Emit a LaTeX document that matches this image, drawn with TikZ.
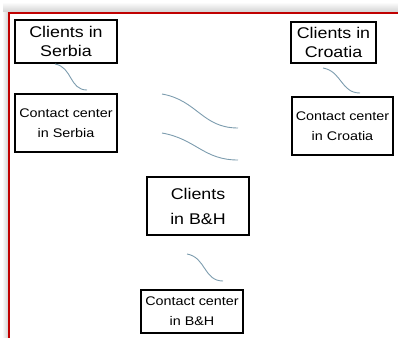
\documentclass[tikz,border=0pt]{standalone}
\usepackage{fontspec}
\setmainfont[FakeStretch=1.15]{Liberation Sans}
\definecolor{framered}{HTML}{C00000}
\definecolor{wavecol}{HTML}{7C9CAE}

\begin{document}
\begin{tikzpicture}[
            x=1bp, y=-1bp,
            box/.style={rectangle, draw, line width=1.2bp, inner sep=0pt, align=center},
            cli/.style={box, font=\fontsize{15.5bp}{19bp}\selectfont},
            ctr/.style={box, font=\fontsize{12.5bp}{20bp}\selectfont},
            wave/.style={draw=wavecol, line width=0.9bp, out=-10, in=180, looseness=1.1}
        ]
        \useasboundingbox (0,0) rectangle (398,338);

        % shadow and frame
        \shade[top color=white, bottom color=gray!35] (3,2) rectangle (398,12);
        \shade[left color=white, right color=gray!35] (2,12) rectangle (8,338);
        \draw[framered, line width=2.5bp] (9,338) -- (9,13) -- (398,13);

        % clients and contact centers
        \node[cli, minimum width=102bp, minimum height=43bp] (cliSrb) at (66,41.5) {Clients in\\Serbia};
        \node[ctr, minimum width=102bp, minimum height=58bp] (ctrSrb) at (66,123) {Contact center\\in Serbia};
        \node[cli, minimum width=85bp, minimum height=41bp] (cliCro) at (333.5,42.5) {Clients in\\Croatia};
        \node[ctr, minimum width=101bp, minimum height=58bp] (ctrCro) at (342.5,126) {Contact center\\in Croatia};
        \node[cli, minimum width=102bp, minimum height=58bp, font=\fontsize{15.5bp}{25bp}\selectfont] (cliBih) at (198,206) {Clients\\in B\&H};
        \node[ctr, minimum width=102bp, minimum height=43bp] (ctrBih) at (192,311.5) {Contact center\\in B\&H};

        % wave ends
        \coordinate (s1) at (55,64);   \coordinate (s2) at (87,90);
        \coordinate (c1) at (323,68);  \coordinate (c2) at (360,93);
        \coordinate (m1) at (162,94);  \coordinate (m2) at (238,128);
        \coordinate (n1) at (162,133); \coordinate (n2) at (238,160);
        \coordinate (b1) at (187,254); \coordinate (b2) at (223,281);

        \draw[wave] (s1) to (s2);
        \draw[wave] (c1) to (c2);
        \draw[wave] (m1) to (m2);
        \draw[wave] (n1) to (n2);
        \draw[wave] (b1) to (b2);

        \end{tikzpicture}
\end{document}
